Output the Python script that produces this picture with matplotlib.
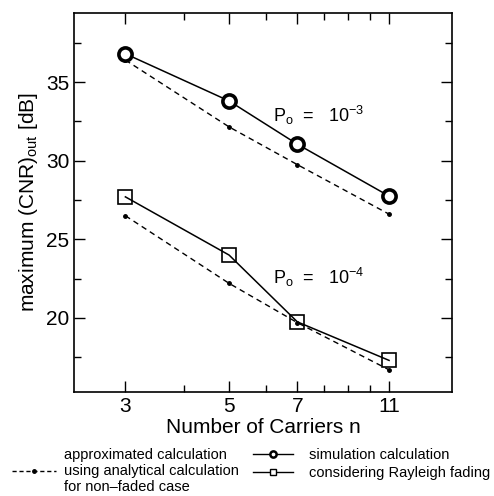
import matplotlib
matplotlib.use('Agg')
import matplotlib.pyplot as plt
from matplotlib.lines import Line2D
from matplotlib.ticker import FixedLocator, NullFormatter

plt.rcParams['font.family'] = ['Liberation Sans', 'DejaVu Sans']
plt.rcParams['mathtext.fontset'] = 'custom'
plt.rcParams['mathtext.rm'] = 'Liberation Sans'
plt.rcParams['mathtext.it'] = 'Liberation Sans'

# Data
carriers = [3, 5, 7, 11]
sim_1e3 = [36.8, 33.8, 31.05, 27.75]
approx_1e3 = [36.4, 32.15, 29.75, 26.6]
rayleigh_1e4 = [27.7, 24.0, 19.75, 17.3]
approx_1e4 = [26.5, 22.2, 19.7, 16.7]

fig = plt.figure(figsize=(4.94, 4.96), dpi=100)
ax = fig.add_axes([0.150, 0.210, 0.765, 0.764])

# approximated (dashed with small dots)
ax.plot(carriers, approx_1e3, color='black', ls=(0, (4, 3)), lw=1,
        marker='o', ms=2.5, zorder=2)
ax.plot(carriers, approx_1e4, color='black', ls=(0, (4, 3)), lw=1,
        marker='o', ms=2.5, zorder=2)

# simulation
ax.plot(carriers, sim_1e3, color='black', lw=1.1, marker='o', ms=9.5,
        mfc='white', mec='black', mew=2.6, zorder=3)
ax.plot(carriers, rayleigh_1e4, color='black', lw=1.1, marker='s', ms=10,
        mfc='none', mec='black', mew=1.2, zorder=3)

ax.text(6.2, 32.9, r'P$_\mathrm{o}$  =   10$^{-3}$', fontsize=13, va='center')
ax.text(6.2, 22.6, r'P$_\mathrm{o}$  =   10$^{-4}$', fontsize=13, va='center')

ax.set_xscale('log')
ax.set_xlim(2.33, 15.0)
ax.set_ylim(15.3, 39.4)
ax.xaxis.set_major_locator(FixedLocator(carriers))
ax.set_xticklabels([str(c) for c in carriers])
ax.xaxis.set_minor_locator(FixedLocator([4, 6, 8, 9, 10]))
ax.xaxis.set_minor_formatter(NullFormatter())
ax.set_yticks([20, 25, 30, 35])
ax.set_yticks([17.5, 22.5, 27.5, 32.5, 37.5], minor=True)

ax.tick_params(which='both', direction='in', top=True, right=True,
               labelsize=15, width=1)
ax.tick_params(which='major', length=8)
ax.tick_params(which='minor', length=5)
for s in ax.spines.values():
    s.set_linewidth(1.2)

ax.set_xlabel('Number of Carriers n', fontsize=15, labelpad=2)
ax.set_ylabel(r'maximum (CNR)$_\mathrm{out}$ [dB]', fontsize=15, labelpad=4)

# legends below the plot
h_approx = Line2D([], [], color='black', ls=(0, (3, 2)), lw=1, marker='o', ms=2.5)
h_sim = Line2D([], [], color='black', lw=1, marker='o', ms=4.5,
               mfc='white', mew=1.8)
h_ray = Line2D([], [], color='black', lw=1, marker='s', ms=5,
               mfc='white', mew=1)

fig.legend([h_approx],
           ['approximated calculation\nusing analytical calculation\nfor non\u2013faded case'],
           loc='upper left', bbox_to_anchor=(0.025, 0.097), frameon=False,
           fontsize=10.5, handlelength=3.0, handletextpad=0.55,
           borderpad=0, borderaxespad=0)
fig.legend([h_sim, h_ray], ['simulation calculation', 'considering Rayleigh fading'],
           loc='upper left', bbox_to_anchor=(0.512, 0.097), frameon=False,
           fontsize=10.5, handlelength=2.75, handletextpad=1.1, labelspacing=0.27,
           borderpad=0, borderaxespad=0)

fig.savefig('out.png', dpi=100)
